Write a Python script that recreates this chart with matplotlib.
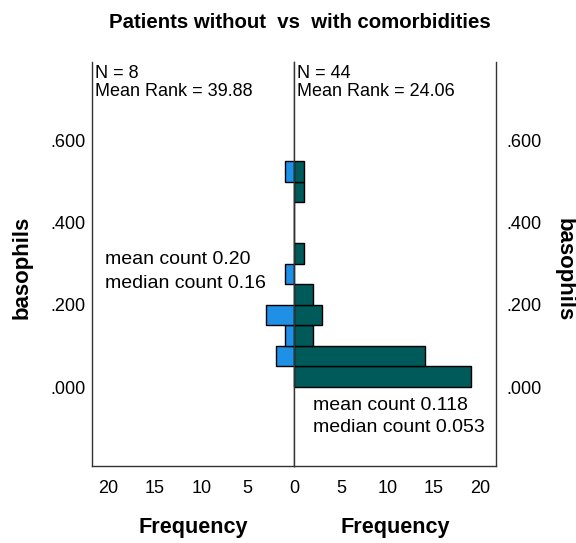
import matplotlib
matplotlib.use("Agg")
import matplotlib.pyplot as plt
import numpy as np

plt.rcParams['font.family'] = ['Liberation Sans', 'DejaVu Sans']

bin_edges = [0.00, 0.05, 0.10, 0.15, 0.20, 0.25, 0.30, 0.35, 0.40, 0.45, 0.50, 0.55]
counts_without = [0, 2, 1, 3, 0, 1, 0, 0, 0, 0, 1]
counts_with = [19, 14, 2, 3, 2, 0, 1, 0, 0, 1, 1]
y_ticks = [0.0, 0.2, 0.4, 0.6]
x_ticks_left = [5, 10, 15, 20]
x_ticks_right = [0, 5, 10, 15, 20]

title = "Patients without  vs  with comorbidities"
left_info = ["N = 8", "Mean Rank = 39.88"]
right_info = ["N = 44", "Mean Rank = 24.06"]
left_note = ["mean count 0.20", "median count 0.16"]
right_note = ["mean count 0.118", "median count 0.053"]

W, H = 576, 543
fig = plt.figure(figsize=(W / 100, H / 100), dpi=100)

def fx(px):
    return px / W

def fy(py):
    return 1 - py / H

x_left, x_mid, x_right = 92.3, 294.3, 496.3
y_top, y_bot = 62, 465.7
axL = fig.add_axes([fx(x_left), fy(y_bot), fx(x_mid - x_left), (y_bot - y_top) / H])
axR = fig.add_axes([fx(x_mid), fy(y_bot), fx(x_right - x_mid), (y_bot - y_top) / H])

edges = np.array(bin_edges)
lows = edges[:-1]
widths = np.diff(edges)
blue = '#1E90E6'
teal = '#005A5A'

axL.barh(lows, counts_without, height=widths, align='edge', color=blue,
         edgecolor='black', linewidth=1.0)
axR.barh(lows, counts_with, height=widths, align='edge', color=teal,
         edgecolor='black', linewidth=1.0)

xmax = 21.7
ylim = (-0.1915, 0.791)
axL.set_xlim(xmax, 0)
axR.set_xlim(0, xmax)
for ax in (axL, axR):
    ax.set_ylim(*ylim)
    ax.spines['top'].set_visible(False)
    for s in ('left', 'right', 'bottom'):
        ax.spines[s].set_color('#333333')
        ax.spines[s].set_linewidth(1.0)
    ax.tick_params(length=0, labelsize=13, colors='black')

fmt = lambda v: f"{v:.3f}".lstrip('0') if v >= 0 else f"{v:.3f}"
axL.set_yticks(y_ticks)
axL.set_yticklabels([fmt(v) for v in y_ticks])
axL.tick_params(axis='y', pad=5)
axR.yaxis.tick_right()
axR.set_yticks(y_ticks)
axR.set_yticklabels([fmt(v) for v in y_ticks])
axR.tick_params(axis='y', pad=7)

axL.set_xticks(x_ticks_left)
axL.set_xticklabels([str(v) for v in x_ticks_left])
axR.set_xticks(x_ticks_right)
axR.set_xticklabels([str(v) for v in x_ticks_right])
axL.tick_params(axis='x', pad=10)
axR.tick_params(axis='x', pad=10)

fig.text(fx(193.3), fy(528), "Frequency", fontsize=15.6, fontweight='bold', ha='center', va='center')
fig.text(fx(395.3), fy(528), "Frequency", fontsize=15.6, fontweight='bold', ha='center', va='center')

fig.text(fx(300), fy(22), title, fontsize=14.7, fontweight='bold', ha='center', va='center')
fig.text(fx(22), fy(267), "basophils", fontsize=16, fontweight='bold', rotation=90,
         ha='center', va='center')
fig.text(fx(564), fy(270), "basophils", fontsize=16, fontweight='bold', rotation=270,
         ha='center', va='center')

fs = 13
fig.text(fx(95), fy(73), left_info[0], fontsize=fs, ha='left', va='center')
fig.text(fx(95), fy(91), left_info[1], fontsize=fs, ha='left', va='center')
fig.text(fx(297), fy(73), right_info[0], fontsize=fs, ha='left', va='center')
fig.text(fx(297), fy(91), right_info[1], fontsize=fs, ha='left', va='center')
fn = 14
fig.text(fx(105), fy(260), left_note[0], fontsize=fn, ha='left', va='center')
fig.text(fx(105), fy(283), left_note[1], fontsize=fn, ha='left', va='center')
fig.text(fx(313), fy(406), right_note[0], fontsize=fn, ha='left', va='center')
fig.text(fx(313), fy(428), right_note[1], fontsize=fn, ha='left', va='center')

fig.savefig("out.png", dpi=100, facecolor='white')
